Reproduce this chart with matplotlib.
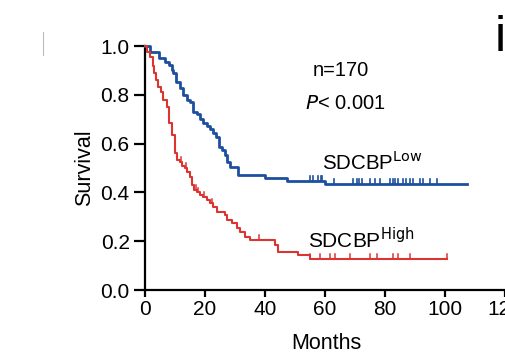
import matplotlib.pyplot as plt
from matplotlib.lines import Line2D

plt.rcParams['font.family'] = ['Liberation Sans', 'DejaVu Sans']

# Kaplan-Meier steps (months, survival)
low_t = [0, 1.5, 4.8, 6.7, 8.1, 9.1, 9.4, 10.2, 11.7, 12.8, 13.9, 15.0, 16.1,
         17.2, 18.3, 19.4, 20.6, 21.7, 22.7, 23.7, 24.7, 25.7, 26.7, 27.2,
         28.3, 31.1, 40.0, 47.3, 60.0, 107.3]
low_s = [1.0, 0.975, 0.951, 0.934, 0.922, 0.90, 0.89, 0.852, 0.828, 0.80,
         0.78, 0.77, 0.73, 0.72, 0.70, 0.684, 0.672, 0.66, 0.643, 0.627,
         0.586, 0.574, 0.553, 0.525, 0.504, 0.471, 0.459, 0.447, 0.434, 0.434]
low_cens = [55, 56, 57.7, 58.5, 59, 63, 69.3, 70.7, 71.3, 72.3, 75, 76.7, 78.3,
            81.7, 82.5, 83.3, 84.3, 86, 87, 88.3, 89.3, 91.7, 92.7, 95, 97.3]

high_t = [0, 0.7, 1.7, 2.6, 3.0, 3.7, 4.3, 5.2, 5.9, 7.2, 8.1, 9.1, 10.0, 10.8,
          11.7, 12.4, 13.3, 14.1, 15.0, 15.6, 16.4, 17.2, 18.3, 19.2, 20.6,
          21.6, 22.8, 23.9, 26.7, 27.2, 28.9, 30.6, 31.7, 33.3, 35.0, 43.3,
          44.3, 51.0, 55.0, 100.7]
high_s = [1.0, 0.975, 0.955, 0.92, 0.89, 0.86, 0.83, 0.81, 0.78, 0.75, 0.685,
          0.635, 0.56, 0.533, 0.525, 0.51, 0.50, 0.484, 0.463, 0.43, 0.41,
          0.40, 0.39, 0.38, 0.369, 0.355, 0.34, 0.32, 0.307, 0.287, 0.275,
          0.254, 0.238, 0.217, 0.205, 0.184, 0.156, 0.143, 0.127, 0.127]
high_cens = [12.0, 13.8, 16.9, 17.8, 19.8, 22.2, 38, 55, 58.3, 61.7, 63.3,
             68.3, 75, 77.3, 82.7, 84.3, 88.3, 100.7]

xticks = [0, 20, 40, 60, 80, 100, 120]
yticks = [0.0, 0.2, 0.4, 0.6, 0.8, 1.0]

blue = '#1d4f9e'
red = '#dc3430'


def level_at(ts, ss, x):
    s = ss[0]
    for t, v in zip(ts, ss):
        if t <= x:
            s = v
    return s


fig = plt.figure(figsize=(5.06, 3.61), dpi=100)
ax = fig.add_axes([145 / 506, 71 / 361, 363 / 506, 244 / 361])

ax.step(low_t, low_s, where='post', color=blue, lw=2.0, clip_on=False, zorder=3)
ax.step(high_t, high_s, where='post', color=red, lw=1.5, clip_on=False, zorder=3)

for t in low_cens:
    s = level_at(low_t, low_s, t)
    ax.plot([t, t], [s, s + 0.02], color=blue, lw=1.2, clip_on=False)
for t in high_cens:
    s = level_at(high_t, high_s, t)
    ax.plot([t, t], [s, s + 0.02], color=red, lw=1.1, clip_on=False)

ax.set_xlim(0, 121)
ax.set_ylim(0, 1.0)
ax.set_xticks(xticks)
ax.set_yticks(yticks)
ax.set_yticklabels([f'{v:.1f}' for v in yticks])
for side in ['top', 'right']:
    ax.spines[side].set_visible(False)
for side in ['left', 'bottom']:
    ax.spines[side].set_linewidth(1.6)
ax.tick_params(axis='both', direction='out', width=1.6, labelsize=15)
ax.tick_params(axis='y', length=8, pad=3)
ax.tick_params(axis='x', length=5, pad=2)
ax.set_xlabel('Months', fontsize=15.5, labelpad=10)
ax.set_ylabel('Survival', fontsize=15.5, labelpad=4)

ax.text(0.54, 0.90, 'n=170', transform=ax.transAxes, fontsize=14.5,
        ha='center', va='center')
ax.text(0.551, 0.766, r'$P$< 0.001', transform=ax.transAxes, fontsize=14.5,
        ha='center', va='center')
ax.text(0.487, 0.525, r'SDCBP$^{\mathrm{Low}}$', transform=ax.transAxes,
        fontsize=14.8, ha='left', va='center')
ax.text(0.448, 0.205, r'SDCBP$^{\mathrm{High}}$', transform=ax.transAxes,
        fontsize=15, ha='left', va='center')

fig.text(500 / 506, 1 - 38 / 361, 'i', fontsize=36, ha='center', va='center')
fig.add_artist(Line2D([43 / 506, 43 / 506], [1 - 32 / 361, 1 - 55 / 361],
                      color='#bbbbbb', lw=0.8))

fig.savefig('out.png', dpi=100)
